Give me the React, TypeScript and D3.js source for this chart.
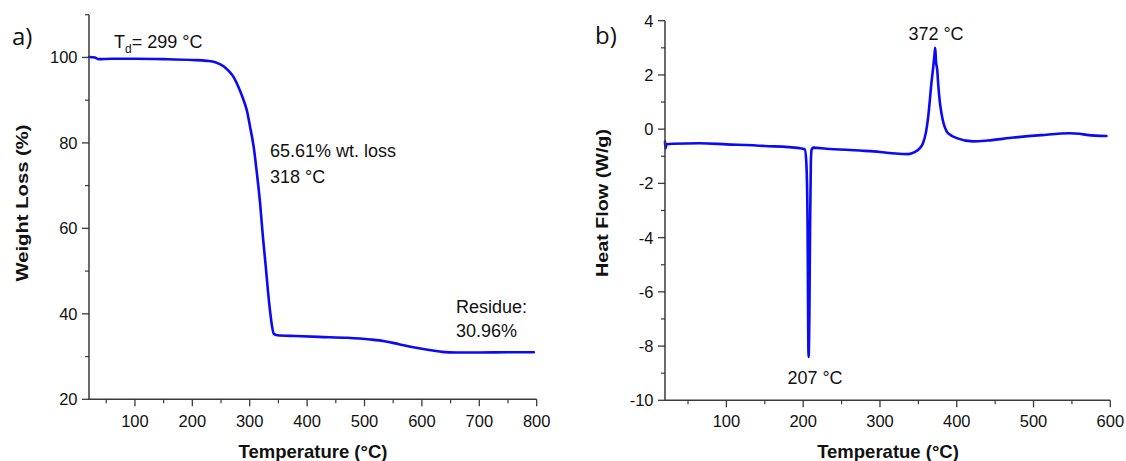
import React from "react";
import * as d3 from "d3";

// ---- TGA data (panel a) ----
const tgaTemp = [20, 30, 36, 60, 100, 150, 200, 225, 240, 255, 265, 272, 280, 288, 295, 301, 307, 312, 318, 323, 328, 332, 336, 339, 342, 348, 380, 420, 470, 510, 535, 560, 585, 610, 635, 660, 700, 750, 795];
const tgaWeight = [100.1, 100.0, 99.6, 99.7, 99.7, 99.6, 99.4, 99.2, 98.9, 97.9, 96.6, 95.4, 93.2, 90.5, 87.6, 83.5, 79, 73.5, 66, 58, 51, 45, 40, 37, 35.3, 35.0, 34.8, 34.6, 34.4, 34.0, 33.6, 32.9, 32.2, 31.6, 31.1, 30.96, 30.95, 31.0, 31.0];

// ---- DSC data (panel b) ----
const dscTemp = [20, 20.5, 22, 30, 65, 100, 150, 195, 202, 204, 205.5, 207, 208, 209, 210, 211, 213, 230, 274, 300, 320, 337, 345, 352, 356, 360, 363, 365, 367, 369.4, 371, 372, 373, 374.6, 376, 378, 380, 383, 387, 392, 400, 421, 440, 474, 510, 547, 560, 569, 580, 595];
const dscHeat = [-0.46, -0.72, -0.56, -0.54, -0.52, -0.56, -0.62, -0.7, -0.74, -1.2, -3, -8.4, -7, -3.5, -1.2, -0.75, -0.68, -0.72, -0.79, -0.84, -0.9, -0.92, -0.85, -0.7, -0.52, -0.1, 0.5, 1.08, 1.7, 2.3, 2.75, 3.0, 2.5, 2.18, 1.6, 1.0, 0.6, 0.2, -0.09, -0.22, -0.33, -0.45, -0.42, -0.31, -0.22, -0.15, -0.17, -0.21, -0.24, -0.25];

// ---- ticks ----
const tgaXTicks = [100, 200, 300, 400, 500, 600, 700, 800];
const tgaXMinor = [50, 150, 250, 350, 450, 550, 650, 750];
const tgaYTicks = [20, 40, 60, 80, 100];
const tgaYMinor = [30, 50, 70, 90, 110];
const dscXTicks = [100, 200, 300, 400, 500, 600];
const dscXMinor = [50, 150, 250, 350, 450, 550];
const dscYTicks = [-10, -8, -6, -4, -2, 0, 2, 4];
const dscYMinor = [-9, -7, -5, -3, -1, 1, 3];

const FONT = "'Liberation Sans', Arial, Helvetica, sans-serif";
const AXIS = "#3a3a3a";
const LINE = "#0a0af5";

type PanelProps = {
  x: d3.ScaleLinear<number, number>;
  y: d3.ScaleLinear<number, number>;
  xt: number[];
  xm: number[];
  yt: number[];
  ym: number[];
  xs: number[];
  ys: number[];
};

function Panel({ x, y, xt, xm, yt, ym, xs, ys }: PanelProps) {
  const [x0, x1] = x.range();
  const [y0, y1] = y.range();
  const pts: [number, number][] = xs.map((v, i) => [v, ys[i]]);
  const path = d3
    .line<[number, number]>()
    .x((d) => x(d[0]))
    .y((d) => y(d[1]))
    .curve(d3.curveMonotoneX)(pts) as string;
  return (
    <g>
      <path d={path} fill="none" stroke={LINE} strokeWidth={2.6} strokeLinejoin="round" strokeLinecap="round" />
      <line x1={x0} x2={x0} y1={y0 + 0.75} y2={y1} stroke={AXIS} strokeWidth={1.5} />
      <line x1={x0} x2={x1} y1={y0} y2={y0} stroke={AXIS} strokeWidth={1.5} />
      {xt.map((t) => (
        <g key={"xt" + t}>
          <line x1={x(t)} x2={x(t)} y1={y0} y2={y0 + 7} stroke={AXIS} strokeWidth={1.3} />
          <text x={x(t)} y={427} textAnchor="middle" fontSize={16.5} fontFamily={FONT} fill="#111">
            {t}
          </text>
        </g>
      ))}
      {xm.map((t) => (
        <line key={"xm" + t} x1={x(t)} x2={x(t)} y1={y0} y2={y0 + 4} stroke={AXIS} strokeWidth={1.2} />
      ))}
      {yt.map((t) => (
        <g key={"yt" + t}>
          <line x1={x0 - 7} x2={x0} y1={y(t)} y2={y(t)} stroke={AXIS} strokeWidth={1.3} />
          <text x={x0 - 11.5} y={y(t)} dy="0.36em" textAnchor="end" fontSize={16.5} fontFamily={FONT} fill="#111">
            {t}
          </text>
        </g>
      ))}
      {ym.map((t) => (
        <line key={"ym" + t} x1={x0 - 4} x2={x0} y1={y(t)} y2={y(t)} stroke={AXIS} strokeWidth={1.2} />
      ))}
    </g>
  );
}

export default function App() {
  const xa = d3.scaleLinear().domain([20, 800]).range([89, 536.7]);
  const ya = d3.scaleLinear().domain([20, 110]).range([399.3, 14.7]);
  const xb = d3.scaleLinear().domain([20, 600]).range([665, 1110.3]);
  const yb = d3.scaleLinear().domain([-10, 4]).range([400.3, 20.7]);

  const ann = { fontFamily: FONT, fontSize: 18, fill: "#111" } as const;
  const title = { fontFamily: FONT, fontWeight: 700, fill: "#111" } as const;

  return (
    <svg
      width={1126}
      height={461}
      style={{ position: "absolute", left: 0, top: 0, background: "#fff" }}
    >
      <rect width={1126} height={461} fill="#fff" />
      <Panel x={xa} y={ya} xt={tgaXTicks} xm={tgaXMinor} yt={tgaYTicks} ym={tgaYMinor} xs={tgaTemp} ys={tgaWeight} />
      <Panel x={xb} y={yb} xt={dscXTicks} xm={dscXMinor} yt={dscYTicks} ym={dscYMinor} xs={dscTemp} ys={dscHeat} />

      {/* panel labels */}
      <text x={12} y={45} fontFamily="'Open Sans', sans-serif" fontSize={24} fill="#111">a)</text>
      <text x={595} y={44} fontFamily="'Open Sans', sans-serif" fontSize={24} fill="#111">b)</text>

      {/* axis titles */}
      <text x={313} y={458} textAnchor="middle" fontSize={18.5} {...title}>Temperature (°C)</text>
      <text x={888} y={458} textAnchor="middle" fontSize={18.5} {...title}>Temperatue (°C)</text>
      <text
        transform="translate(28,203) rotate(-90)"
        textAnchor="middle"
        fontSize={17}
        textLength={157}
        lengthAdjust="spacingAndGlyphs"
        {...title}
      >
        Weight Loss (%)
      </text>
      <text
        transform="translate(608,203) rotate(-90)"
        textAnchor="middle"
        fontSize={17}
        textLength={148}
        lengthAdjust="spacingAndGlyphs"
        {...title}
      >
        Heat Flow (W/g)
      </text>

      {/* annotations panel a */}
      <text x={114} y={48} {...ann}>
        T<tspan fontSize={12} dy={5}>d</tspan>
        <tspan dy={-5}>= 299 °C</tspan>
      </text>
      <text x={270} y={157} {...ann}>65.61% wt. loss</text>
      <text x={270} y={183} {...ann}>318 °C</text>
      <text x={456} y={313} {...ann}>Residue:</text>
      <text x={456} y={337} {...ann}>30.96%</text>

      {/* annotations panel b */}
      <text x={936} y={40} textAnchor="middle" {...ann}>372 °C</text>
      <text x={815} y={384} textAnchor="middle" {...ann}>207 °C</text>
    </svg>
  );
}
